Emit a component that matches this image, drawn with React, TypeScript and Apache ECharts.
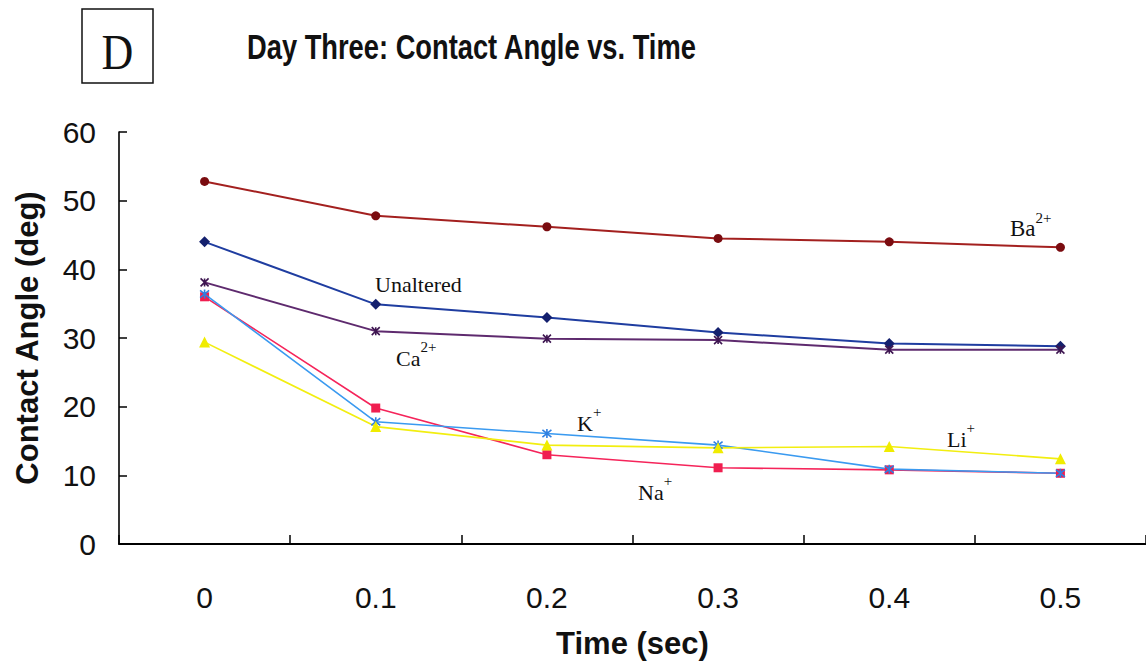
import React, { useEffect, useRef } from "react";
import * as echarts from "echarts";

const categories = ["0", "0.1", "0.2", "0.3", "0.4", "0.5"];
const baValues = [52.8, 47.8, 46.2, 44.5, 44.0, 43.2];
const unalteredValues = [44.0, 34.9, 33.0, 30.8, 29.2, 28.8];
const caValues = [38.1, 31.0, 29.9, 29.7, 28.3, 28.3];
const naValues = [36.0, 19.8, 13.0, 11.1, 10.8, 10.3];
const kValues = [36.4, 17.8, 16.1, 14.4, 10.9, 10.3];
const liValues = [29.4, 17.1, 14.4, 14.0, 14.2, 12.4];

const SANS = "'Liberation Sans', Arial, sans-serif";
const SERIF = "'Liberation Serif', 'Times New Roman', serif";

const X_MARK = "path://M-4,-4L4,4M-4,4L4,-4M0,-4L0,4";
const ASTERISK = "path://M-4,-4L4,4M-4,4L4,-4M0,-5L0,5";

function supLabel(x: number, y: number, base: string, sup: string, size = 22) {
  return {
    type: "text",
    x,
    y,
    style: {
      text: `{b|${base}}{s|${sup}}`,
      align: "left",
      verticalAlign: "middle",
      rich: {
        b: { fontSize: size, fontFamily: SERIF, fill: "#111", lineHeight: 30, verticalAlign: "bottom" },
        s: { fontSize: 15, fontFamily: SERIF, fill: "#111", lineHeight: 20, verticalAlign: "top" },
      },
    },
  };
}

export default function App() {
  const ref = useRef<HTMLDivElement>(null);
  useEffect(() => {
    if (!ref.current) return;
    const chart = echarts.init(ref.current, undefined, { renderer: "svg" });
    const lineSeries = (
      name: string,
      data: number[],
      lineColor: string,
      symbol: string,
      symbolSize: number,
      markerColor: string,
      width: number,
      stroked = false
    ) => ({
      name,
      type: "line",
      data,
      symbol,
      symbolSize,
      showSymbol: true,
      lineStyle: { color: lineColor, width },
      itemStyle: stroked
        ? { color: markerColor, borderColor: markerColor, borderWidth: 1.6 }
        : { color: markerColor, borderWidth: 0 },
      emphasis: { disabled: true },
    });
    chart.setOption({
      animation: false,
      backgroundColor: "#ffffff",
      grid: { left: 119, right: 0, top: 132, bottom: 121, containLabel: false },
      xAxis: {
        type: "category",
        data: categories,
        boundaryGap: true,
        axisLine: { lineStyle: { color: "#000", width: 2 } },
        axisTick: { show: true, inside: true, length: 9, lineStyle: { color: "#000", width: 1.5 } },
        axisLabel: { fontSize: 30, color: "#111", fontFamily: SANS, margin: 38 },
        splitLine: { show: false },
        name: "Time (sec)",
        nameLocation: "middle",
        nameGap: 84,
        nameTextStyle: { fontSize: 31, fontWeight: "bold", color: "#111", fontFamily: SANS },
      },
      yAxis: {
        type: "value",
        min: 0,
        max: 60,
        interval: 10,
        axisLine: { show: true, lineStyle: { color: "#000", width: 1.6 } },
        axisTick: { show: true, inside: true, length: 8, lineStyle: { color: "#000", width: 1.5 } },
        axisLabel: { fontSize: 30, color: "#111", fontFamily: SANS, margin: 23 },
        splitLine: { show: false },
        name: "Contact Angle (deg)",
        nameLocation: "middle",
        nameGap: 76,
        nameRotate: 90,
        nameTextStyle: { fontSize: 31, fontWeight: "bold", color: "#111", fontFamily: SANS },
      },
      series: [
        lineSeries("Ba2+", baValues, "#a3201f", "circle", 9, "#7a0c10", 2),
        lineSeries("Unaltered", unalteredValues, "#1f3da0", "diamond", 11, "#14206e", 2),
        lineSeries("Ca2+", caValues, "#5e2a6e", X_MARK, 8, "#3d1550", 2, true),
        lineSeries("Na+", naValues, "#f5245a", "rect", 9, "#f01e50", 1.6),
        lineSeries("K+", kValues, "#3a9af0", ASTERISK, 9, "#2f7fe0", 1.6, true),
        lineSeries("Li+", liValues, "#f2ee10", "triangle", 11, "#f0ec00", 1.6),
      ],
      graphic: [
        {
          type: "rect",
          shape: { x: 82, y: 9, width: 71, height: 74 },
          style: { fill: "none", stroke: "#111", lineWidth: 1.5 },
        },
        {
          type: "text",
          x: 117.5,
          y: 52,
          scaleX: 0.88,
          style: {
            text: "D",
            font: `50px ${SERIF}`,
            fill: "#111",
            align: "center",
            verticalAlign: "middle",
          },
        },
        {
          type: "text",
          x: 247,
          y: 47,
          scaleX: 0.78,
          style: {
            text: "Day Three: Contact Angle vs. Time",
            font: `bold 35px ${SANS}`,
            fill: "#111",
            align: "left",
            verticalAlign: "middle",
          },
        },
        supLabel(1010, 225, "Ba", "2+", 23),
        {
          type: "text",
          x: 375,
          y: 284,
          style: { text: "Unaltered", font: `22px ${SERIF}`, fill: "#111", align: "left", verticalAlign: "middle" },
        },
        supLabel(396, 354, "Ca", "2+", 22),
        supLabel(577, 419, "K", "+", 22),
        supLabel(947, 435, "Li", "+", 22),
        supLabel(638, 488, "Na", "+", 22),
      ],
    });
    return () => chart.dispose();
  }, []);
  return (
    <div
      ref={ref}
      style={{ position: "absolute", left: 0, top: 0, width: 1146, height: 665, background: "#fff" }}
    />
  );
}
